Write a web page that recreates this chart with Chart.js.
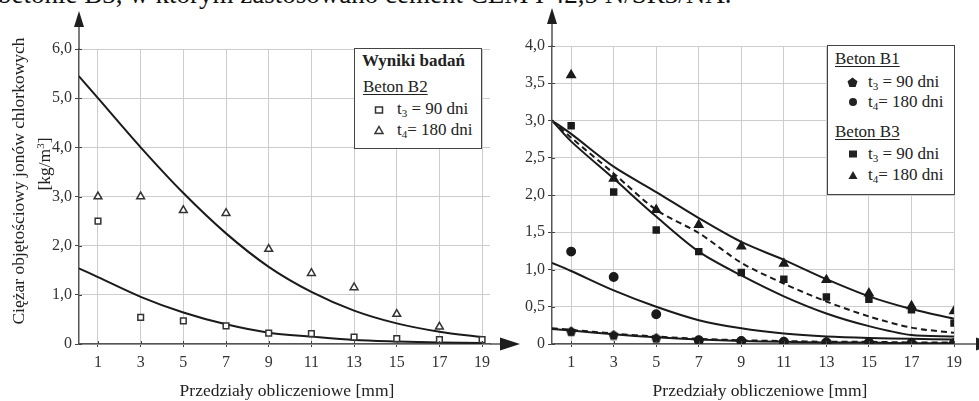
<!DOCTYPE html>
<html><head><meta charset="utf-8">
<script src="https://cdn.jsdelivr.net/npm/chart.js@4.4.1/dist/chart.umd.min.js"></script>
<style>
html,body{margin:0;padding:0;background:#fff;}
#wrap{position:relative;width:979px;height:401px;overflow:hidden;font-family:'Liberation Serif','Times New Roman',serif;color:#222;}
canvas{position:absolute;left:0;top:0;}
.t{position:absolute;white-space:nowrap;line-height:20px;}
.rot{transform:translate(-50%,-50%) rotate(-90deg);}
.ctr{transform:translate(-50%,-50%);}
.legend{position:absolute;background:#fff;border:1.5px solid #444;box-sizing:border-box;font-size:17px;}
.legend .t{height:20px;}
.legend svg{position:absolute;}
sub{font-size:11px;vertical-align:-3px;line-height:0;}
sup{font-size:11px;vertical-align:6px;line-height:0;}
u{text-decoration:underline;text-underline-offset:2px;text-decoration-thickness:1px;}
</style></head>
<body>
<div id="wrap">
  <div class="t" style="left:-2px;top:-19px;font-size:27px;line-height:27px;color:#111;">betonie B3, w którym zastosowano cement CEM I 42,5 N/SR3/NA.</div>
  <canvas id="c1" width="979" height="401"></canvas>
  <canvas id="c2" width="979" height="401"></canvas>

  <div class="t rot" style="left:18px;top:181px;font-size:17.5px;">Ciężar objętościowy jonów chlorkowych</div>
  <div class="t rot" style="left:44px;top:164px;font-size:17.5px;">[kg/m<sup>3</sup>]</div>
  <div class="t ctr" style="left:287px;top:390px;font-size:17.5px;">Przedziały obliczeniowe [mm]</div>
  <div class="t ctr" style="left:760px;top:390px;font-size:17.5px;">Przedziały obliczeniowe [mm]</div>

  <div class="legend" style="left:354px;top:48px;width:128px;height:101px;">
    <div class="t" style="left:7px;top:2px;font-weight:bold;">Wyniki badań</div>
    <div class="t" style="left:8px;top:28px;"><u>Beton B2</u></div>
    <svg style="left:19px;top:56px;" width="10" height="10"><rect x="1.5" y="2" width="7" height="6" fill="#fff" stroke="#333" stroke-width="1.5"/></svg>
    <div class="t" style="left:42px;top:50px;">t<sub>3</sub> = 90 dni</div>
    <svg style="left:19px;top:76px;" width="10" height="10"><polygon points="5,1.5 9,8.5 1,8.5" fill="#fff" stroke="#333" stroke-width="1.5"/></svg>
    <div class="t" style="left:42px;top:71px;">t<sub>4</sub>= 180 dni</div>
  </div>

  <div class="legend" style="left:827px;top:45px;width:128px;height:150px;">
    <div class="t" style="left:7px;top:3px;"><u>Beton B1</u></div>
    <svg style="left:19px;top:31px;" width="11" height="11"><polygon points="5.5,0.5 10.5,4.2 8.6,10 2.4,10 0.5,4.2" fill="#222"/></svg>
    <div class="t" style="left:40px;top:26px;">t<sub>3</sub> = 90 dni</div>
    <svg style="left:20px;top:51px;" width="10" height="10"><circle cx="5" cy="5" r="4" fill="#222"/></svg>
    <div class="t" style="left:40px;top:46px;">t<sub>4</sub>= 180 dni</div>
    <div class="t" style="left:7px;top:76px;"><u>Beton B3</u></div>
    <svg style="left:20px;top:103px;" width="10" height="10"><rect x="1" y="1.5" width="8" height="7" fill="#222"/></svg>
    <div class="t" style="left:40px;top:98px;">t<sub>3</sub> = 90 dni</div>
    <svg style="left:20px;top:124px;" width="10" height="10"><polygon points="5,1 9.5,9 0.5,9" fill="#222"/></svg>
    <div class="t" style="left:40px;top:119px;">t<sub>4</sub>= 180 dni</div>
  </div>
</div>
<script>
// ---------- data ----------
const categories = [1, 3, 5, 7, 9, 11, 13, 15, 17, 19];
const xTickLabels = ['1', '3', '5', '7', '9', '11', '13', '15', '17', '19'];
const modelX = [0.1, 1, 3, 5, 7, 9, 11, 13, 15, 17, 19];
const leftYTicks = [0, 1, 2, 3, 4, 5, 6];
const rightYTicks = [0, 0.5, 1, 1.5, 2, 2.5, 3, 3.5, 4];

// Left chart: Beton B2 (measured)
const b2_t3 = [2.5, 0.54, 0.47, 0.37, 0.22, 0.21, 0.14, 0.11, 0.09, 0.09];
const b2_t4 = [3.0, 3.0, 2.72, 2.66, 1.93, 1.44, 1.15, 0.61, 0.35, null];
// Left chart: model curves
const b2_t4_model = [5.45, 5.0, 4.0, 3.07, 2.25, 1.57, 1.06, 0.68, 0.42, 0.25, 0.14];
const b2_t3_model = [1.54, 1.36, 0.96, 0.64, 0.40, 0.23, 0.15, 0.08, 0.05, 0.03, 0.02];

// Right chart: Beton B1 / B3 (measured)
const b1_t3 = [0.17, 0.12, 0.08, 0.05, 0.04, 0.03, 0.03, 0.02, 0.01, 0.01];
const b1_t4 = [1.24, 0.90, 0.40, 0.05, 0.04, 0.03, 0.02, 0.02, 0.01, 0.01];
const b3_t3 = [2.93, 2.04, 1.53, 1.24, 0.96, 0.87, 0.63, 0.60, 0.46, 0.28];
const b3_t4 = [3.61, 2.22, 1.80, 1.60, 1.31, 1.08, 0.86, 0.68, 0.51, 0.44];
// Right chart: model curves
const b3_upper_model = [3.0, 2.82, 2.38, 2.04, 1.69, 1.37, 1.13, 0.87, 0.64, 0.47, 0.34];
const b3_dashed_model = [3.0, 2.77, 2.29, 1.80, 1.49, 1.09, 0.81, 0.57, 0.37, 0.22, 0.15];
const b3_lower_model = [3.0, 2.72, 2.22, 1.71, 1.24, 0.92, 0.64, 0.41, 0.24, 0.12, 0.10];
const b1_t4_model = [1.09, 0.98, 0.72, 0.50, 0.32, 0.21, 0.14, 0.10, 0.08, 0.07, 0.06];
const b1_t3_model = [0.20, 0.18, 0.13, 0.09, 0.06, 0.04, 0.03, 0.02, 0.02, 0.01, 0.01];
const b1_t3_dashed_model = [0.21, 0.19, 0.14, 0.10, 0.07, 0.05, 0.04, 0.03, 0.03, 0.02, 0.02];

// ---------- helpers ----------
const pts = (xs, ys) => xs.map((x, i) => ({x: x, y: ys[i]}));
const fmt = v => v === 0 ? '0' : Number(v).toFixed(1).replace('.', ',');
const FONT = "'Liberation Serif', 'Times New Roman', serif";
const LINE = '#1a1a1a';

function pentagon() {
  const c = document.createElement('canvas');
  c.width = 11; c.height = 11;
  const g = c.getContext('2d');
  g.fillStyle = '#1a1a1a';
  g.beginPath();
  for (let i = 0; i < 5; i++) {
    const a = -Math.PI / 2 + i * 2 * Math.PI / 5;
    const px = 5.5 + 5.3 * Math.cos(a), py = 5.9 + 5.3 * Math.sin(a);
    if (i === 0) g.moveTo(px, py); else g.lineTo(px, py);
  }
  g.closePath(); g.fill();
  return c;
}

const arrowPlugin = {
  id: 'arrows',
  afterDraw(chart, args, o) {
    const ctx = chart.ctx, a = chart.chartArea;
    ctx.save();
    ctx.strokeStyle = '#555'; ctx.lineWidth = 1.5; ctx.fillStyle = '#1e1e1e';
    ctx.beginPath(); ctx.moveTo(a.left, a.top); ctx.lineTo(a.left, o.yTip + 12); ctx.stroke();
    ctx.beginPath(); ctx.moveTo(a.left, o.yTip); ctx.lineTo(a.left - 5, o.yTip + 16); ctx.lineTo(a.left + 5, o.yTip + 16); ctx.closePath(); ctx.fill();
    ctx.beginPath(); ctx.moveTo(a.right, a.bottom); ctx.lineTo(o.xTip - 16, a.bottom); ctx.stroke();
    ctx.beginPath(); ctx.moveTo(o.xTip, a.bottom); ctx.lineTo(o.xTip - 20, a.bottom - 6.5); ctx.lineTo(o.xTip - 20, a.bottom + 6.5); ctx.closePath(); ctx.fill();
    ctx.strokeStyle = '#444'; ctx.lineWidth = 1;
    const ys = chart.scales.y, xs = chart.scales.x;
    ys.ticks.forEach(t => { const y = Math.round(ys.getPixelForValue(t.value)) + 0.5; ctx.beginPath(); ctx.moveTo(a.left, y); ctx.lineTo(a.left + 3, y); ctx.stroke(); });
    xs.ticks.forEach(t => { const x = Math.round(xs.getPixelForValue(t.value)) + 0.5; ctx.beginPath(); ctx.moveTo(x, a.bottom); ctx.lineTo(x, a.bottom - 3); ctx.stroke(); });
    ctx.restore();
  }
};

function lineDs(xs, ys, dash) {
  return {data: pts(xs, ys), borderColor: LINE, borderWidth: 2, borderDash: dash || [], pointRadius: 0, tension: 0.3, fill: false, order: 2};
}
function markDs(xs, ys, style, r, fill, stroke) {
  return {data: pts(xs, ys), showLine: false, pointStyle: style, pointRadius: r, pointBackgroundColor: fill,
          pointBorderColor: stroke, pointBorderWidth: 1.5, order: 0};
}

function scalesCfg(xmin, xmax, ymax, yTicks, yWidth) {
  const gridCommon = {color: '#cdcdcd', lineWidth: 1, tickColor: '#444'};
  return {
    x: {type: 'linear', min: xmin, max: xmax,
        afterBuildTicks: s => { s.ticks = categories.map(v => ({value: v})); },
        afterFit: s => { s.height = 57; },
        grid: Object.assign({tickLength: 3}, gridCommon),
        border: {color: '#555', width: 1.5},
        ticks: {font: {family: FONT, size: 16}, color: '#333', padding: 6, maxRotation: 0, autoSkip: false,
                callback: v => xTickLabels[categories.indexOf(v)]}},
    y: {type: 'linear', min: 0, max: ymax,
        afterBuildTicks: s => { s.ticks = yTicks.map(v => ({value: v})); },
        afterFit: s => { s.width = yWidth; },
        grid: Object.assign({tickLength: 4}, gridCommon),
        border: {color: '#555', width: 1.5},
        ticks: {font: {family: FONT, size: 16}, color: '#333', padding: 3, callback: fmt}}
  };
}

const common = {responsive: false, animation: false, events: []};

new Chart(document.getElementById('c1'), {
  type: 'line',
  data: {datasets: [
    lineDs(modelX, b2_t4_model),
    lineDs(modelX, b2_t3_model),
    markDs(categories, b2_t3, 'rect', 4, '#fff', '#333'),
    markDs(categories, b2_t4, 'triangle', 4.5, '#fff', '#333')
  ]},
  options: Object.assign({}, common, {
    layout: {padding: {top: 49, right: 489, left: 0, bottom: 0}},
    plugins: {legend: {display: false}, tooltip: {enabled: false}, arrows: {xTip: 520, yTip: 11}},
    scales: scalesCfg(0.11, 19.37, 6, leftYTicks, 79)
  }),
  plugins: [arrowPlugin]
});

const pent = pentagon();
new Chart(document.getElementById('c2'), {
  type: 'line',
  data: {datasets: [
    lineDs(modelX, b3_upper_model),
    lineDs(modelX, b3_dashed_model, [6, 4]),
    lineDs(modelX, b3_lower_model),
    lineDs(modelX, b1_t4_model),
    lineDs(modelX, b1_t3_model),
    lineDs(modelX, b1_t3_dashed_model, [6, 4]),
    markDs(categories, b1_t3, pent, 5, '#1a1a1a', '#1a1a1a'),
    markDs(categories, b1_t4, 'circle', 4.2, '#1a1a1a', '#1a1a1a'),
    markDs(categories, b3_t3, 'rect', 4.2, '#1a1a1a', '#1a1a1a'),
    markDs(categories, b3_t4, 'triangle', 4.8, '#1a1a1a', '#1a1a1a')
  ]},
  options: Object.assign({}, common, {
    layout: {padding: {top: 46, right: 25, left: 512, bottom: 0}},
    plugins: {legend: {display: false}, tooltip: {enabled: false}, arrows: {xTip: 996, yTip: 8}},
    scales: scalesCfg(0.1, 19, 4, rightYTicks, 40)
  }),
  plugins: [arrowPlugin]
});
</script>
</body></html>
